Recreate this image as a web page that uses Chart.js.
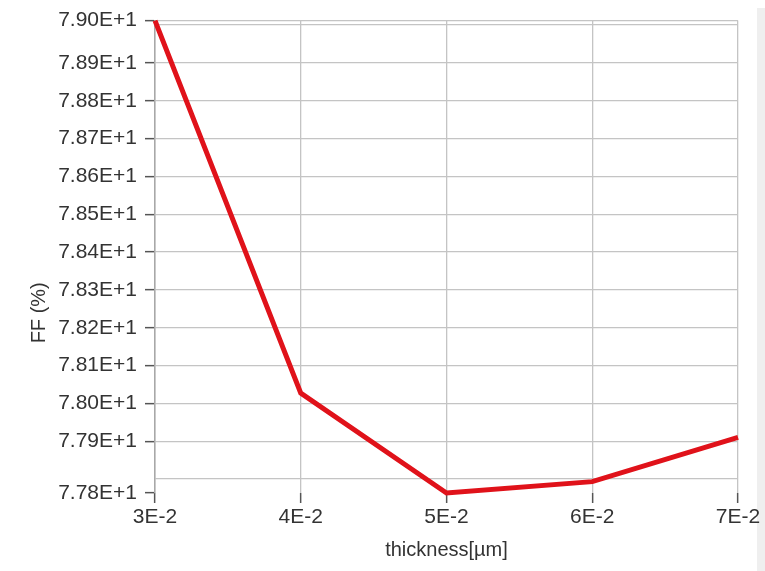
<!DOCTYPE html>
<html>
<head>
<meta charset="utf-8">
<script src="https://cdn.jsdelivr.net/npm/chart.js@4.4.1/dist/chart.umd.min.js"></script>
<style>
  html, body { margin: 0; padding: 0; background: #ffffff; }
  #wrap { width: 765px; height: 571px; position: relative; }
</style>
</head>
<body>
<div id="wrap"><canvas id="c" width="765" height="571"></canvas></div>
<script>
// Fill factor versus layer thickness
const thickness = [0.03, 0.04, 0.05, 0.06, 0.07];          // µm
const ff = [79.012, 78.027, 77.763, 77.793, 77.910];        // %
const yGridValues = [77.8, 77.9, 78.0, 78.1, 78.2, 78.3, 78.4, 78.5, 78.6, 78.7, 78.8, 78.9, 79.0];
const xTitle = 'thickness[µm]';
const yTitle = 'FF (%)';

// the value axis is fitted to the data range, its ends carry their own labels
const yMin = Math.min(...ff);
const yMax = Math.max(...ff);

const FONT = '"Liberation Sans", Arial, sans-serif';
const TEXT = '#333333';
const GRID = '#c4c4c4';
const TICK = '#555555';

const unlabeled = v => Math.abs(v - 77.8) < 1e-6 || Math.abs(v - 79.0) < 1e-6;
const sci = (v, d) => v.toExponential(d).replace('e', 'E');

const pagePlugin = {
  id: 'page',
  beforeDraw(chart) {
    const { ctx, width, height } = chart;
    ctx.save();
    ctx.fillStyle = '#ffffff';
    ctx.fillRect(0, 0, width, height);
    ctx.fillStyle = '#efefef';
    ctx.fillRect(width - 8, 8, 8, height - 8);
    ctx.restore();
  },
  afterDraw(chart) {
    const { ctx, chartArea } = chart;
    ctx.save();
    ctx.fillStyle = TEXT;
    ctx.font = '20px ' + FONT;
    ctx.textAlign = 'center';
    ctx.textBaseline = 'middle';
    ctx.fillText(xTitle, (chartArea.left + chartArea.right) / 2, chartArea.bottom + 57);
    ctx.translate(chartArea.left - 116, (chartArea.top + chartArea.bottom) / 2 + 56);
    ctx.rotate(-Math.PI / 2);
    ctx.fillText(yTitle, 0, 0);
    ctx.restore();
  }
};

new Chart(document.getElementById('c'), {
  type: 'line',
  data: {
    datasets: [{
      data: thickness.map((x, i) => ({ x: x, y: ff[i] })),
      borderColor: '#e0121a',
      borderWidth: 5,
      pointRadius: 0,
      tension: 0,
      clip: 8,
      borderJoinStyle: 'miter'
    }]
  },
  options: {
    responsive: false,
    animation: false,
    devicePixelRatio: 1,
    layout: { padding: { top: 19.5, right: 27, bottom: 0, left: 0 } },
    plugins: { legend: { display: false }, tooltip: { enabled: false } },
    scales: {
      x: {
        type: 'linear',
        min: 0.03,
        max: 0.07,
        afterFit(scale) { scale.height = 78; },
        afterBuildTicks(scale) { scale.ticks = thickness.map(v => ({ value: v })); },
        ticks: {
          autoSkip: false,
          maxRotation: 0,
          padding: 2,
          color: TEXT,
          font: { family: FONT, size: 21 },
          callback: v => sci(v, 0)
        },
        grid: { color: GRID, lineWidth: 1.3, tickLength: 10, tickColor: TICK, tickWidth: 1.5 },
        border: { display: false }
      },
      y: {
        type: 'linear',
        min: yMin,
        max: yMax,
        afterFit(scale) { scale.width = 155; },
        afterBuildTicks(scale) {
          scale.ticks = [yMin, ...yGridValues, yMax].map(v => ({ value: v }));
        },
        ticks: {
          autoSkip: false,
          padding: 8,
          color: TEXT,
          font: { family: FONT, size: 21 },
          callback: v => unlabeled(v) ? '' : sci(v, 2)
        },
        grid: {
          color: ctx => (ctx.tick && ctx.tick.value === yMin) ? 'rgba(0,0,0,0)' : GRID,
          lineWidth: 1.3,
          tickLength: 10,
          tickWidth: 1.5,
          tickColor: ctx => (ctx.tick && unlabeled(ctx.tick.value)) ? 'rgba(0,0,0,0)' : TICK
        },
        border: { display: true, color: '#a8a8a8', width: 1.5 }
      }
    }
  },
  plugins: [pagePlugin]
});
</script>
</body>
</html>
